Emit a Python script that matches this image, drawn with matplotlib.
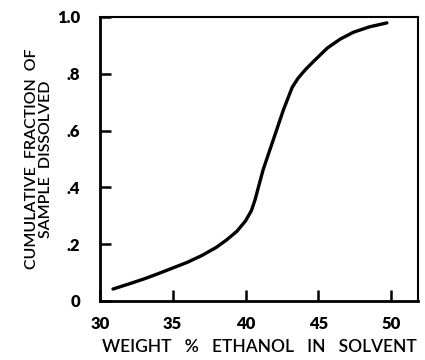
import matplotlib
matplotlib.use("Agg")
import matplotlib.pyplot as plt

# values
ethanol_pct = [30.9, 32.0, 33.0, 34.0, 35.0, 36.0, 37.0, 38.0, 38.7, 39.4,
               40.0, 40.4, 40.65, 41.2, 41.9, 42.6, 43.2, 43.6, 44.1, 44.7,
               45.6, 46.5, 47.4, 48.5, 49.7]
frac_dissolved = [0.042, 0.060, 0.077, 0.096, 0.116, 0.136, 0.160, 0.189,
                  0.215, 0.245, 0.282, 0.318, 0.356, 0.461, 0.567, 0.673,
                  0.752, 0.784, 0.814, 0.845, 0.890, 0.922, 0.946, 0.965,
                  0.979]

x_ticks = [30, 35, 40, 45, 50]
x_tick_labels = ["30", "35", "40", "45", "50"]
y_ticks = [0, 0.2, 0.4, 0.6, 0.8, 1.0]
y_tick_labels = ["0", ".2", ".4", ".6", ".8", "1.0"]

plt.rcParams['font.family'] = ['Lato', 'DejaVu Sans']

fig = plt.figure(figsize=(4.25, 3.6), dpi=100)
ax = fig.add_axes([0.235, 0.164, 0.749, 0.789])

ax.plot(ethanol_pct, frac_dissolved, color='black', linewidth=2.4,
        solid_capstyle='round', solid_joinstyle='round')

ax.set_xlim(30, 51.85)
ax.set_ylim(0, 1.0)

ax.set_xticks(x_ticks)
ax.set_xticklabels(x_tick_labels, fontsize=12, fontweight='heavy')
ax.set_yticks(y_ticks)
ax.set_yticklabels(y_tick_labels, fontsize=12, fontweight='heavy')
ax.tick_params(axis='both', direction='in', length=8, width=1.8)
ax.tick_params(axis='x', pad=11)
ax.tick_params(axis='y', pad=14)

ax.spines['left'].set_linewidth(2.0)
ax.spines['bottom'].set_linewidth(2.0)
ax.spines['top'].set_linewidth(1.5)
ax.spines['right'].set_linewidth(1.5)

ax.set_xlabel("WEIGHT   %   ETHANOL   IN   SOLVENT", fontsize=12.5,
              fontweight='semibold', labelpad=5)
ax.set_ylabel("CUMULATIVE  FRACTION  OF\nSAMPLE  DISSOLVED", fontsize=11.5,
              fontweight='semibold', labelpad=3, linespacing=1.0)

fig.savefig("out.png", dpi=100)
